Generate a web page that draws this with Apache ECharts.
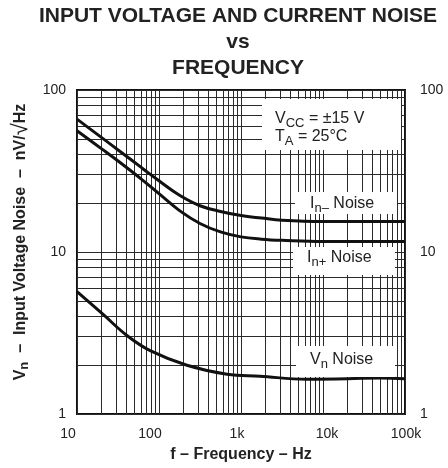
<!DOCTYPE html>
<html><head><meta charset="utf-8">
<script src="https://cdn.jsdelivr.net/npm/echarts@6/dist/echarts.min.js"></script>
<style>html,body{margin:0;padding:0;background:#fff}#c{width:448px;height:468px}</style>
</head><body><div id="c"></div>
<script>
// Data
const inMinusFreq = [10, 20, 32, 63, 100, 178, 316, 562, 1000, 1778, 3162, 10000, 100000];
const inMinusVal  = [66.1, 50.8, 42.5, 32.8, 27.5, 22.4, 19.3, 17.8, 16.8, 16.2, 15.7, 15.4, 15.4];
const inPlusFreq  = [10, 20, 32, 63, 100, 178, 316, 562, 1000, 1778, 3162, 10000, 100000];
const inPlusVal   = [56, 43.3, 36.3, 27.8, 22.9, 18.0, 15.0, 13.3, 12.4, 12.0, 11.8, 11.6, 11.6];
const vnFreq      = [10, 21, 41, 78, 219, 676, 1700, 6300, 20000, 50000, 100000];
const vnVal       = [5.7, 4.1, 3.04, 2.46, 2.0, 1.76, 1.71, 1.64, 1.65, 1.67, 1.65];
const xTickLabels = {10: '10', 100: '100', 1000: '1k', 10000: '10k', 100000: '100k'};
const xMinorGrid = [20,30,40,50,60,70,80,90,200,300,400,500,600,700,800,900,2000,3000,4000,5000,6000,7000,8000,9000,20000,30000,40000,50000,60000,70000,80000,90000];
const yMinorGrid = [2,3,4,5,6,7,8,9,20,30,40,50,60,70,80,90];

const FONT = 'Liberation Sans, Arial, sans-serif';
const zip = (a, b) => a.map((v, i) => [v, b[i]]);
const gridColor = '#2a2a2a';
const INK = '#222';

const chart = echarts.init(document.getElementById('c'), null, {renderer: 'canvas'});
const curve = (name, f, v) => ({
  name, type: 'line', data: zip(f, v), smooth: 0.4,
  showSymbol: false, symbol: 'none', z: 5,
  lineStyle: {color: '#111', width: 3}, animation: false
});
const labRich = {
  a: {fontFamily: FONT, fontSize: 16, fill: INK},
  s: {fontFamily: FONT, fontSize: 13, fill: INK, padding: [8, 0, 0, 0]}
};
const xRich = {
  t10: {padding: [0, 18, 0, 0]}, t100: {padding: [0, 18, 0, 0]}, t1k: {padding: [0, 8, 0, 0]},
  t10k: {padding: [0, 0, 0, 8]}, t100k: {padding: [0, 0, 0, 2]}
};
const titleStyle = {fontFamily: FONT, fontWeight: 'bold', fontSize: 21, color: INK};

chart.setOption({
  animation: false,
  backgroundColor: '#fff',
  title: [
    {text: 'INPUT VOLTAGE AND CURRENT NOISE', left: 238, top: 6, padding: 0, textAlign: 'center', textStyle: titleStyle},
    {text: 'vs', left: 238, top: 32, padding: 0, textAlign: 'center', textStyle: titleStyle},
    {text: 'FREQUENCY', left: 238, top: 58, padding: 0, textAlign: 'center', textStyle: titleStyle}
  ],
  grid: {left: 77, right: 43, top: 90, bottom: 51, show: true, borderColor: '#111', borderWidth: 2, backgroundColor: 'transparent'},
  xAxis: {
    type: 'log', logBase: 10, min: 10, max: 100000,
    name: 'f – Frequency – Hz', nameLocation: 'middle', nameGap: 33,
    nameTextStyle: {fontFamily: FONT, fontWeight: 'bold', fontSize: 16, color: INK},
    axisLine: {show: false}, axisTick: {show: false},
    axisLabel: {fontFamily: FONT, fontSize: 14, color: INK, margin: 13, rich: xRich,
      formatter: v => { const t = xTickLabels[Math.round(v)]; return t ? '{t' + t + '|' + t + '}' : ''; }},
    splitLine: {show: true, lineStyle: {color: gridColor, width: 1}}
  },
  yAxis: [{
    type: 'log', logBase: 10, min: 1, max: 100, position: 'left',
    name: '{b|V}{s|n}{b|  –  Input Voltage Noise  –  nV/}{r|√}{b|Hz}',
    nameLocation: 'middle', nameGap: 12, nameRotate: 90,
    nameTextStyle: {fontFamily: FONT, fontWeight: 'bold', fontSize: 16, color: INK, padding: [14, 0, 0, 20],
      rich: {
        b: {fontFamily: FONT, fontWeight: 'bold', fontSize: 16, color: INK},
        r: {fontFamily: FONT, fontWeight: 'normal', fontSize: 22, color: INK},
        s: {fontFamily: FONT, fontWeight: 'bold', fontSize: 13, color: INK, padding: [8, 0, 0, 0]}
      }},
    axisLine: {show: false}, axisTick: {show: false},
    axisLabel: {fontFamily: FONT, fontSize: 14, color: INK, margin: 11},
    splitLine: {show: true, lineStyle: {color: gridColor, width: 1}}
  }, {
    type: 'log', logBase: 10, min: 1, max: 100, position: 'right',
    axisLine: {show: false}, axisTick: {show: false},
    axisLabel: {fontFamily: FONT, fontSize: 14, color: INK, margin: 15},
    splitLine: {show: false}
  }],
  series: [
    {
      type: 'line', data: [], z: 1, silent: true,
      markLine: {
        silent: true, symbol: 'none', label: {show: false}, animation: false,
        lineStyle: {color: gridColor, width: 1, type: 'solid'},
        data: xMinorGrid.map(v => ({xAxis: v})).concat(yMinorGrid.map(v => ({yAxis: v})))
      }
    },
    curve('In– Noise', inMinusFreq, inMinusVal),
    curve('In+ Noise', inPlusFreq, inPlusVal),
    curve('Vn Noise', vnFreq, vnVal)
  ],
  graphic: [
    {type: 'rect', z: 50, shape: {x: 262, y: 99, width: 139, height: 51}, style: {fill: '#fff'}},
    {type: 'text', z: 51, style: {x: 275, y: 119, verticalAlign: 'middle', text: '{a|V}{s|CC}{a| = ±15 V}', rich: labRich}},
    {type: 'text', z: 51, style: {x: 275, y: 137, verticalAlign: 'middle', text: '{a|T}{s|A}{a| = 25°C}', rich: labRich}},

    {type: 'rect', z: 50, shape: {x: 295, y: 192, width: 102, height: 22}, style: {fill: '#fff'}},
    {type: 'text', z: 51, style: {x: 310, y: 204, verticalAlign: 'middle', text: '{a|I}{s|n–}{a| Noise}', rich: labRich}},

    {type: 'rect', z: 50, shape: {x: 293, y: 247, width: 102, height: 28}, style: {fill: '#fff'}},
    {type: 'text', z: 51, style: {x: 307, y: 258, verticalAlign: 'middle', text: '{a|I}{s|n+}{a| Noise}', rich: labRich}},

    {type: 'rect', z: 50, shape: {x: 296, y: 346, width: 99, height: 31}, style: {fill: '#fff'}},
    {type: 'text', z: 51, style: {x: 310, y: 360, verticalAlign: 'middle', text: '{a|V}{s|n}{a| Noise}', rich: labRich}}
  ]
});
</script></body></html>
